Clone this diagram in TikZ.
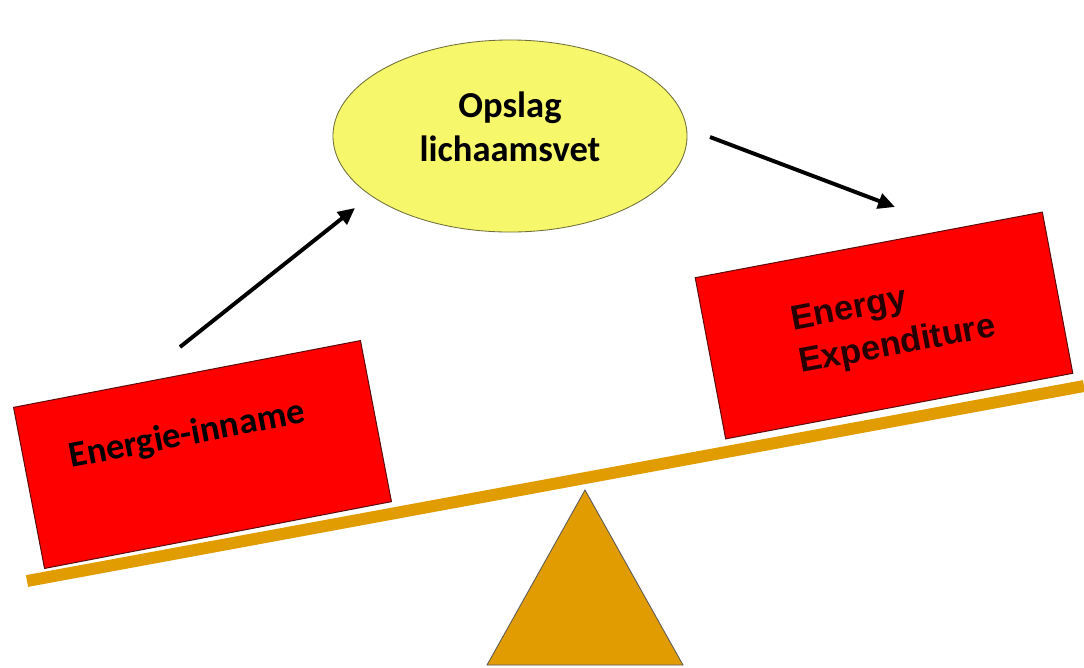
\documentclass[tikz,border=0pt]{standalone}
\usepackage{fontspec}
\setmainfont{Carlito}
\newfontfamily\arialfont{Liberation Sans}
\usepackage{tikz}
\usetikzlibrary{arrows.meta, calc, positioning, shapes.geometric}
\definecolor{blokrood}{HTML}{FF0000}
\definecolor{randrood}{HTML}{5A0A0A}
\definecolor{geel}{HTML}{F7F76C}
\definecolor{olijf}{HTML}{6E6E3A}
\definecolor{oker}{HTML}{E09C00}
\tikzset{
  blok/.style={draw=randrood, line width=0.7pt, fill=blokrood,
               minimum width=8.83cm, minimum height=4.1cm, inner sep=0pt},
  pijl/.style={line width=2.8pt, -{Triangle[length=12pt,width=11pt]}},
  label tekst/.style={font=\fontsize{26}{31}\selectfont\bfseries, inner sep=0pt}
}

\begin{document}
\begin{tikzpicture}[x=0.025cm, y=-0.025cm]
      \useasboundingbox (0,0) rectangle (1084,667);

      % Balk en steunpunt
      \coordinate (balkL) at (27,581);
      \coordinate (balkR) at (1084,386);
      \coordinate (top) at (585,490);
      \coordinate (voetL) at (487,665);
      \coordinate (voetR) at (683,665);
      \filldraw[fill=oker, draw=black!65, line width=0.6pt]
        (top) -- (voetR) -- (voetL) -- cycle;
      \draw[oker, line width=8.5pt] (balkL) -- (balkR);

      % Blokken
      \node[blok, rotate=10.9] (inname) at (202.5,454.5) {};
      \node[blok, rotate=10.7] (verbruik) at (884,325.5) {};
      \node[label tekst, rotate=10.9, anchor=base] (innametekst) at (189,445)
        {Energie-inname};
      \node[font=\arialfont\fontsize{24.5}{31}\selectfont\bfseries,
            text=black!85!red, align=left, inner sep=0pt, rotate=10.7,
            anchor=base west] (verbruiktekst) at (801,373)
        {Energy\\Expenditure};

      % Opslag
      \node[ellipse, draw=olijf, line width=0.6pt, fill=geel,
            minimum width=8.85cm, minimum height=4.8cm] (opslag) at (510,136) {};
      \node[label tekst, align=center] (opslagtekst) at ($(opslag)+(0,-9)$)
        {Opslag\\lichaamsvet};

      % Pijlen
      \coordinate (vanInname) at (180,347);
      \coordinate (naarOpslag) at (355,208);
      \coordinate (vanOpslag) at (710,137);
      \coordinate (naarVerbruik) at (895,207);
      \draw[pijl] (vanInname) -- (naarOpslag);
      \draw[pijl] (vanOpslag) -- (naarVerbruik);
\end{tikzpicture}
\end{document}
